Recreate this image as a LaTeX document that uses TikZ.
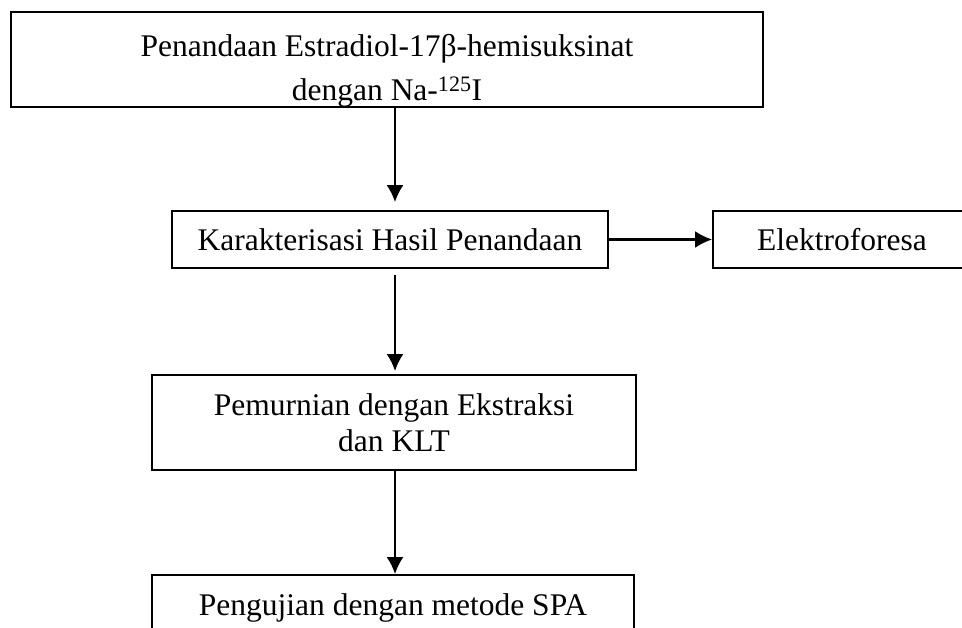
\documentclass[tikz,border=0pt]{standalone}
\usepackage{fontspec}
\setmainfont{Liberation Serif}
\usetikzlibrary{arrows.meta,shapes}

\begin{document}
\begin{tikzpicture}[x=1pt, y=-1pt, >={Latex[length=17pt,width=17pt]},
  box/.style={rectangle, draw, line width=1.8pt, align=center, inner sep=0pt,
    font=\fontsize{31.5}{36}\selectfont},
  flow/.style={->, line width=2.2pt}]
  \path[use as bounding box, clip] (0,0) rectangle (962,628);
  % Nodes
  \node[box, minimum width=752pt, minimum height=95pt] (penandaan) at (387,59.5)
    {\rule{0pt}{44pt}Penandaan Estradiol-17β-hemisuksinat\\[8pt] dengan Na-\textsuperscript{125}I};
  \node[box, minimum width=436pt, minimum height=57pt] (karakterisasi) at (390,239.5)
    {Karakterisasi Hasil Penandaan};
  \node[box, minimum width=258pt, minimum height=57pt] (elektroforesa) at (842,239.5)
    {Elektroforesa};
  \node[box, minimum width=484pt, minimum height=95pt] (pemurnian) at (394,422.5)
    {Pemurnian dengan Ekstraksi\\ dan KLT};
  \node[box, minimum width=482pt, minimum height=65pt] (pengujian) at (393,607.5)
    {Pengujian dengan metode SPA};

  % Edges
  \draw[flow, shorten >=8pt] (penandaan.south -| 395,0) -- (karakterisasi.north -| 395,0);
  \draw[flow] (karakterisasi.east) -- (elektroforesa.west);
  \draw[flow, shorten <=6pt, shorten >=3pt] (karakterisasi.south -| 395,0) -- (pemurnian.north -| 395,0);
  \draw[flow] (pemurnian.south -| 395,0) -- (pengujian.north -| 395,0);
\end{tikzpicture}
\end{document}
